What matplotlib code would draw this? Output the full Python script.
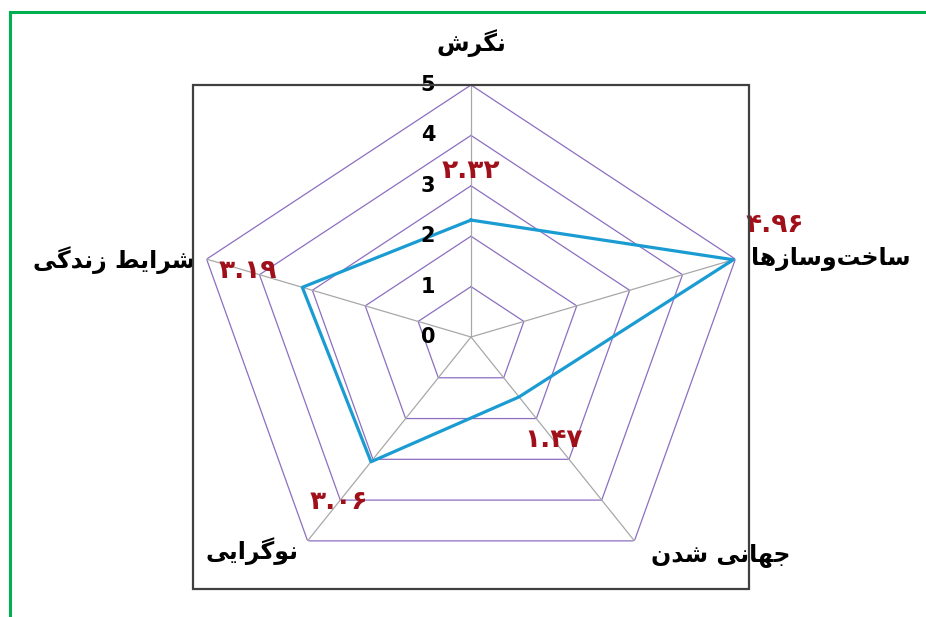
import numpy as np
import matplotlib
matplotlib.use("Agg")
import matplotlib.pyplot as plt
from matplotlib.lines import Line2D
from matplotlib.patches import Rectangle

# ---------------- data ----------------
categories = ["نگرش", "ساخت\u200cوسازها", "جهانی شدن", "نوگرایی", "شرایط زندگی"]
values = [2.32, 4.96, 1.47, 3.06, 3.19]
r_ticks = [0, 1, 2, 3, 4, 5]

# ---------------- minimal Arabic/Persian shaping ----------------
FORMS = {
    'ا': ('\uFE8D', '\uFE8E', None, None),
    'د': ('\uFEA9', '\uFEAA', None, None),
    'ر': ('\uFEAD', '\uFEAE', None, None),
    'ز': ('\uFEAF', '\uFEB0', None, None),
    'و': ('\uFEED', '\uFEEE', None, None),
    'ن': ('\uFEE5', '\uFEE6', '\uFEE7', '\uFEE8'),
    'گ': ('\uFB92', '\uFB93', '\uFB94', '\uFB95'),
    'ش': ('\uFEB5', '\uFEB6', '\uFEB7', '\uFEB8'),
    'س': ('\uFEB1', '\uFEB2', '\uFEB3', '\uFEB4'),
    'خ': ('\uFEA5', '\uFEA6', '\uFEA7', '\uFEA8'),
    'ت': ('\uFE95', '\uFE96', '\uFE97', '\uFE98'),
    'ه': ('\uFEE9', '\uFEEA', '\uFEEB', '\uFEEC'),
    'ج': ('\uFE9D', '\uFE9E', '\uFE9F', '\uFEA0'),
    'ی': ('\uFBFC', '\uFBFD', '\uFBFE', '\uFBFF'),
    'ط': ('\uFEC1', '\uFEC2', '\uFEC3', '\uFEC4'),
}


def shape(s):
    out = []
    for i, c in enumerate(s):
        if c not in FORMS:
            if c != '\u200c':
                out.append(c)
            continue
        prev = s[i - 1] if i > 0 else None
        nxt = s[i + 1] if i + 1 < len(s) else None
        cp = prev in FORMS and FORMS[prev][2] is not None
        cn = nxt in FORMS and FORMS[c][2] is not None
        iso, fin, ini, med = FORMS[c]
        out.append(med if (cp and cn) else fin if cp else ini if cn else iso)
    return ''.join(reversed(out))


to_fa = str.maketrans("0123456789", "۰۱۲۳۴۵۶۷۸۹")
value_labels = [f"{v:.2f}".translate(to_fa) for v in values]

plt.rcParams['font.family'] = ['DejaVu Sans']

W, H = 926, 617
fig = plt.figure(figsize=(W / 100, H / 100), dpi=100)
fig.patch.set_facecolor('white')

# green outer border (left and top visible)
fig.add_artist(Line2D([10 / W, 10 / W], [0, 1 - 12 / H], transform=fig.transFigure,
                      color='#00b050', lw=2.2))
fig.add_artist(Line2D([10 / W, 1], [1 - 12 / H, 1 - 12 / H], transform=fig.transFigure,
                      color='#00b050', lw=2.2))

# black plot-area frame
fx0, fy0, fx1, fy1 = 193, 85, 749, 589
fig.add_artist(Rectangle((fx0 / W, 1 - fy1 / H), (fx1 - fx0) / W, (fy1 - fy0) / H,
                         transform=fig.transFigure, fill=False, ec='#404040', lw=1.6))

# polar axes, slightly stretched horizontally
cx, cy, rx, ry = 471, 337, 278, 252
ax = fig.add_axes([(cx - rx) / W, 1 - (cy + ry) / H, 2 * rx / W, 2 * ry / H],
                  projection='polar')
ax.set_aspect('auto')
ax.set_theta_zero_location('N')
ax.set_theta_direction(-1)
ax.set_ylim(0, 5)
ax.grid(False)
ax.spines['polar'].set_visible(False)
ax.set_xticks([])
ax.set_yticks([])
ax.patch.set_alpha(0)

n = len(categories)
angles = np.linspace(0, 2 * np.pi, n, endpoint=False)
closed = np.append(angles, angles[0])

for r in r_ticks[1:]:
    ax.plot(closed, [r] * (n + 1), color='#8c6fc0', lw=0.9, zorder=1)
for a in angles:
    ax.plot([a, a], [0, r_ticks[-1]], color='#a8a8a8', lw=0.9, zorder=1)

ax.plot(closed, values + [values[0]], color='#1a9cd2', lw=2.3, zorder=3)

# radial tick labels
for r in r_ticks:
    ax.annotate(str(r), xy=(0, r), xytext=(-31, 0), textcoords='offset points',
                ha='center', va='center', fontsize=15, fontweight='bold', color='black')

# category labels
cat_pos = [
    dict(off=(0, 30), ha='center'),
    dict(off=(11, 0), ha='left'),
    dict(off=(62, -10), ha='center'),
    dict(off=(-40, -7), ha='center'),
    dict(off=(-8, -1), ha='right'),
]
for a, lab, p in zip(angles, categories, cat_pos):
    ax.annotate(shape(lab), xy=(a, r_ticks[-1]), xytext=p['off'], textcoords='offset points',
                ha=p['ha'], va='center', fontsize=17, fontweight='bold', color='black',
                annotation_clip=False)

# value labels
val_off = [(0, 35), (30, 25), (25, -31), (-23, -29), (-39, 12)]
for a, v, t, o in zip(angles, values, value_labels, val_off):
    ax.annotate(t, xy=(a, v), xytext=o, textcoords='offset points',
                ha='center', va='center', fontsize=19, fontweight='bold', color='#a0101a',
                annotation_clip=False)

fig.savefig('out.png', dpi=100)
